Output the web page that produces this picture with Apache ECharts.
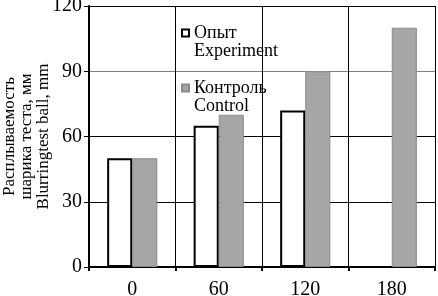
<!DOCTYPE html>
<html>
<head>
<meta charset="utf-8">
<script src="https://cdn.jsdelivr.net/npm/echarts@6/dist/echarts.min.js"></script>
<style>
  html, body { margin: 0; padding: 0; background: #fff; }
  #chart { width: 438px; height: 296px; }
</style>
</head>
<body>
<div id="chart"></div>
<script>
// время, мин
var categories = ['0', '60', '120', '180']
// Опыт / Experiment (нет значения для 180)
var experiment = [50, 65, 72, '-']
// Контроль / Control
var control = [50, 70, 90, 110]
var yTicks = [0, 30, 60, 90, 120]

var serif = '"Liberation Serif", "DejaVu Serif", serif'
var chart = echarts.init(document.getElementById('chart'))

chart.setOption({
  animation: false,
  textStyle: { fontFamily: serif, color: '#000' },
  grid: { left: 89, right: 3, top: 6, bottom: 29, containLabel: false, outerBoundsMode: 'none' },
  legend: {
    orient: 'vertical',
    left: 181,
    top: 6,
    padding: 0,
    itemGap: 1,
    itemWidth: 7,
    itemHeight: 7,
    icon: 'rect',
    // пустая строка сверху, чтобы значок стоял у первой строки
    formatter: function(name) {
      return ' \n' + name
    },
    textStyle: { fontFamily: serif, fontSize: 18, lineHeight: 18, color: '#000' },
    data: ['Опыт\nExperiment', 'Контроль\nControl']
  },
  xAxis: {
    type: 'category',
    data: categories,
    axisLine: { lineStyle: { color: '#000', width: 2 } },
    axisTick: { show: true, length: 4, lineStyle: { color: '#000', width: 2 } },
    axisLabel: { fontFamily: serif, fontSize: 20, color: '#000', margin: 13 },
    splitLine: { show: true, lineStyle: { color: '#000', width: 1 } }
  },
  yAxis: {
    type: 'value',
    min: yTicks[0],
    max: yTicks[yTicks.length - 1],
    interval: 30,
    name: 'Расплываемость\nшарика теста, мм\nBlurringtest ball, mm',
    nameLocation: 'middle',
    nameRotate: 90,
    nameGap: 37,
    nameMoveOverlap: false,
    nameTextStyle: { fontFamily: serif, fontSize: 17, lineHeight: 17, color: '#000' },
    axisLine: { show: true, lineStyle: { color: '#000', width: 2 } },
    axisTick: { show: true, length: 5, lineStyle: { color: '#000', width: 1 } },
    axisLabel: { fontFamily: serif, fontSize: 20, color: '#000', margin: 7 },
    splitLine: {
      show: true,
      lineStyle: { color: ['#000', '#000', '#000', '#808080', '#000'], width: 1 }
    }
  },
  series: [
    {
      name: 'Опыт\nExperiment',
      type: 'bar',
      barGap: 0,
      barCategoryGap: '42%',
      data: experiment,
      itemStyle: { color: '#fff', borderColor: '#000', borderWidth: 2 }
    },
    {
      name: 'Контроль\nControl',
      type: 'bar',
      data: control,
      itemStyle: { color: '#a6a6a6', borderColor: '#8a8a8a', borderWidth: 1 }
    }
  ]
})
</script>
</body>
</html>
